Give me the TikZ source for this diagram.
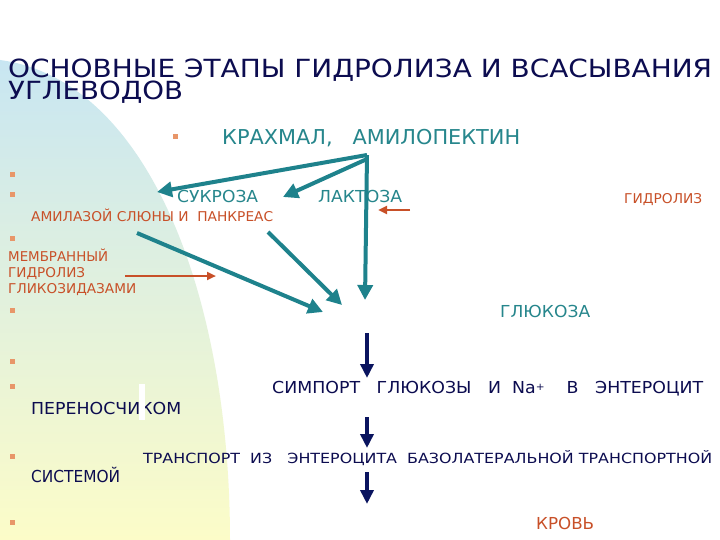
\documentclass[tikz,border=0pt]{standalone}
\usepackage{fontspec}
\usepackage{graphicx}
\setmainfont{DejaVu Sans}
\usetikzlibrary{arrows.meta}
\definecolor{tealc}{RGB}{38,134,140}
\definecolor{arrteal}{RGB}{30,130,140}
\definecolor{redc}{RGB}{200,80,40}
\definecolor{navyc}{RGB}{12,12,80}
\definecolor{navyarr}{RGB}{10,20,95}
\definecolor{bulc}{RGB}{232,150,105}
\definecolor{bgblue}{RGB}{200,230,242}
\definecolor{bggreen}{RGB}{228,242,226}
\definecolor{bgyellow}{RGB}{252,252,200}
\newcommand{\fitw}[2]{\resizebox{#1}{\height}{#2}}
\begin{document}
\begin{tikzpicture}[x=1pt,y=-1pt,
  txt/.style={anchor=base west, inner sep=0pt},
  bul/.style={rectangle, fill=bulc, minimum size=5pt, inner sep=0pt},
  tealarrow/.style={draw=arrteal, line width=4pt, -{Triangle[length=15pt,width=15pt]}},
  redarrow/.style={draw=redc, line width=2.5pt, -{Triangle[length=9pt,width=8pt]}},
  navyarrow/.style={draw=navyarr, line width=4pt, -{Triangle[length=14pt,width=13pt]}},
  ttl/.style={font=\fontsize{25}{26}\selectfont},
  big/.style={font=\fontsize{20.5}{22}\selectfont},
  mid/.style={font=\fontsize{16.5}{18}\selectfont},
  sml/.style={font=\fontsize{13.5}{15}\selectfont},
  smm/.style={font=\fontsize{14}{16}\selectfont}]
\useasboundingbox (0,0) rectangle (720,540);
\fill[white] (0,0) rectangle (720,540);
\shade[top color=bgblue, middle color=bggreen, bottom color=bgyellow]
  (0,60) .. controls (150,80) and (230,300) .. (230,540) -- (0,540) -- cycle;

% title
\node[txt, ttl, text=navyc] (t1) at (8,78) {\fitw{704pt}{ОСНОВНЫЕ ЭТАПЫ ГИДРОЛИЗА И ВСАСЫВАНИЯ}};
\node[txt, ttl, text=navyc] (t2) at (8,100) {\fitw{175pt}{УГЛЕВОДОВ}};

% bullets
\node[bul] (b0) at (175,137) {};
\node[bul] (b1) at (12,175) {};
\node[bul] (b2) at (12,195) {};
\node[bul] (b3) at (12,238) {};
\node[bul] (b4) at (12,310) {};
\node[bul] (b5) at (12,361) {};
\node[bul] (b6) at (12,386) {};
\node[bul] (b7) at (12,456) {};
\node[bul] (b8) at (12,522) {};

% texts
\node[txt, big, text=tealc] (krah) at (222,145) {\fitw{298pt}{КРАХМАЛ,\ \ \ АМИЛОПЕКТИН}};
\node[txt, mid, text=tealc] (suk) at (177,203) {\fitw{81pt}{СУКРОЗА}};
\node[txt, mid, text=tealc] (lak) at (318,203) {\fitw{84pt}{ЛАКТОЗА}};
\node[txt, sml, text=redc] (gidr) at (624,204) {\fitw{78pt}{ГИДРОЛИЗ}};
\node[txt, sml, text=redc] (amil) at (31,222) {\fitw{242pt}{АМИЛАЗОЙ СЛЮНЫ И\ \ ПАНКРЕАС}};
\node[txt, sml, text=redc] (memb) at (8,261) {\fitw{100pt}{МЕМБРАННЫЙ}};
\node[txt, sml, text=redc] (gidr2) at (8,277) {\fitw{77pt}{ГИДРОЛИЗ}};
\node[txt, sml, text=redc] (glik) at (8,293) {\fitw{128pt}{ГЛИКОЗИДАЗАМИ}};
\node[txt, mid, text=tealc] (gluk) at (500,317) {\fitw{90pt}{ГЛЮКОЗА}};
\node[txt, mid, text=navyc] (simp) at (272,393) {\fitw{431pt}{СИМПОРТ\ \ \ ГЛЮКОЗЫ\ \ \ И\ \ Na\raisebox{3pt}{\fontsize{10}{10}\selectfont +}\ \ \ \ В\ \ \ ЭНТЕРОЦИТ}};
\node[txt, mid, text=navyc] (per) at (31,414) {\fitw{150pt}{ПЕРЕНОСЧИКОМ}};
\node[txt, smm, text=navyc] (trans) at (143,463) {\fitw{569pt}{ТРАНСПОРТ\ \ ИЗ\ \ \ ЭНТЕРОЦИТА\ \ БАЗОЛАТЕРАЛЬНОЙ ТРАНСПОРТНОЙ}};
\node[txt, mid, text=navyc] (sist) at (31,482) {\fitw{89pt}{СИСТЕМОЙ}};
\node[txt, mid, text=redc] (krov) at (536,529) {\fitw{58pt}{КРОВЬ}};

% white mark over text
\fill[white] (139,384) rectangle (145,420);

% arrow endpoints
\coordinate (src) at (367,155);
\coordinate (src2) at (367,159);
\coordinate (toSuk) at (157,192);
\coordinate (toLak) at (283,197);
\coordinate (down) at (365,300);
\coordinate (a4s) at (137,233);
\coordinate (a4e) at (323,312);
\coordinate (a5s) at (268,232);
\coordinate (a5e) at (342,305);
\coordinate (r1s) at (410,210);
\coordinate (r1e) at (378,210);
\coordinate (r2s) at (125,276);
\coordinate (r2e) at (216,276);
\coordinate (n1s) at (367,333);
\coordinate (n1e) at (367,378);
\coordinate (n2s) at (367,417);
\coordinate (n2e) at (367,448);
\coordinate (n3s) at (367,472);
\coordinate (n3e) at (367,504);

\draw[tealarrow] (src) -- (toSuk);
\draw[tealarrow] (src2) -- (toLak);
\draw[tealarrow] (src) -- (down);
\draw[tealarrow] (a4s) -- (a4e);
\draw[tealarrow] (a5s) -- (a5e);
\draw[redarrow] (r1s) -- (r1e);
\draw[redarrow] (r2s) -- (r2e);
\draw[navyarrow] (n1s) -- (n1e);
\draw[navyarrow] (n2s) -- (n2e);
\draw[navyarrow] (n3s) -- (n3e);
\end{tikzpicture}
\end{document}
